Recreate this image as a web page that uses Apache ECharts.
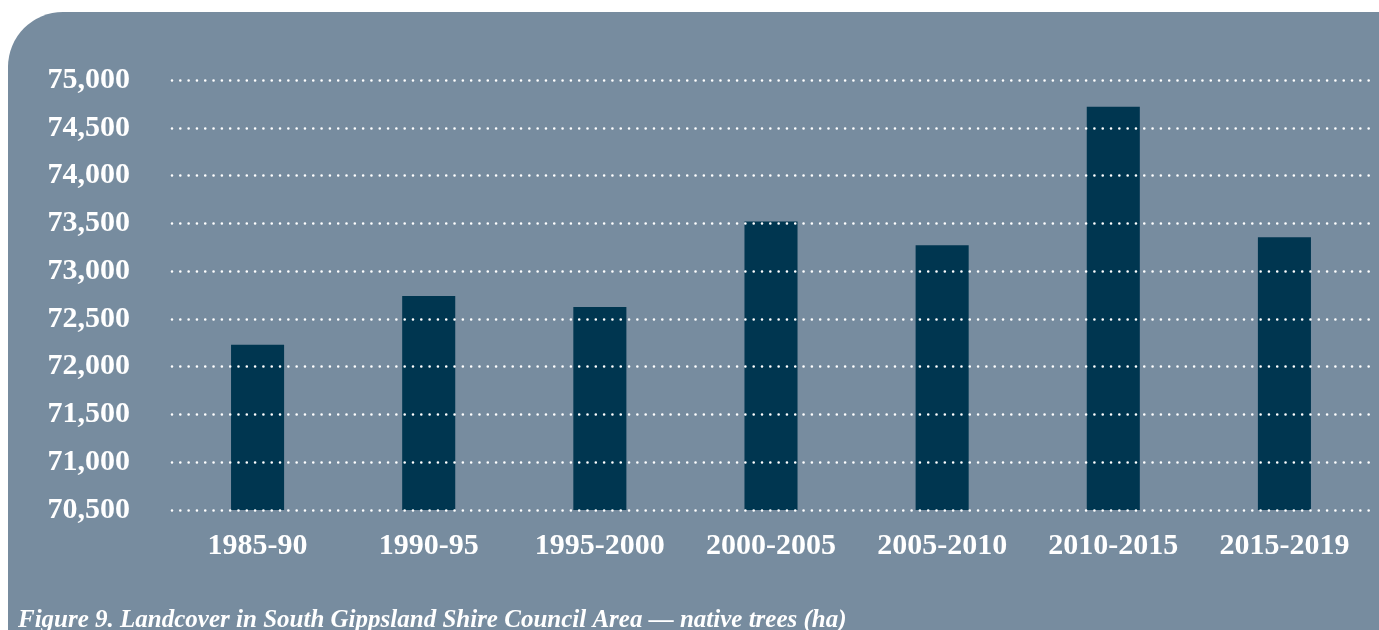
<!DOCTYPE html>
<html>
<head>
<meta charset="utf-8">
<script src="https://cdn.jsdelivr.net/npm/echarts@6/dist/echarts.min.js"></script>
<style>
html,body{margin:0;padding:0;background:#ffffff;}
#chart{width:1379px;height:630px;}
</style>
</head>
<body>
<div id="chart"></div>
<script>
const categories = ['1985-90','1990-95','1995-2000','2000-2005','2005-2010','2010-2015','2015-2019'];
const nativeTrees = [72230, 72740, 72625, 73520, 73270, 74720, 73355];
const yMin = 70500, yMax = 75000, yStep = 500;
const caption = 'Figure 9. Landcover in South Gippsland Shire Council Area \u2014 native trees (ha)';

const serif = '"Liberation Serif","DejaVu Serif",serif';
const chart = echarts.init(document.getElementById('chart'), null, {renderer:'canvas'});
chart.setOption({
  animation:false,
  backgroundColor:'#ffffff',
  graphic:[
    {type:'rect', z:-10, silent:true,
     shape:{x:8,y:12,width:1380,height:630,r:[55,0,0,0]},
     style:{fill:'#778c9f'}},
    {type:'text', left:18, top:608, z:10,
     style:{text:caption, fill:'#ffffff', font:'italic bold 25px '+serif}}
  ],
  grid:{left:172, right:9, top:80, bottom:120, containLabel:false},
  xAxis:{
    type:'category', data:categories,
    axisLine:{show:false}, axisTick:{show:false},
    axisLabel:{color:'#ffffff', fontFamily:serif, fontWeight:'bold', fontSize:30, margin:21}
  },
  yAxis:{
    type:'value', min:yMin, max:yMax, interval:yStep, z:5,
    axisLine:{show:false}, axisTick:{show:false},
    axisLabel:{color:'#ffffff', fontFamily:serif, fontWeight:'bold', fontSize:30, margin:42,
      formatter:v=>v.toLocaleString('en-US')},
    splitLine:{show:true, lineStyle:{color:'#ffffff', width:2.6, type:[0.01,8.3], cap:'round'}}
  },
  series:[{
    type:'bar', data:nativeTrees, barWidth:'31%', z:2,
    itemStyle:{color:'#003650'}
  }]
});
</script>
</body>
</html>
